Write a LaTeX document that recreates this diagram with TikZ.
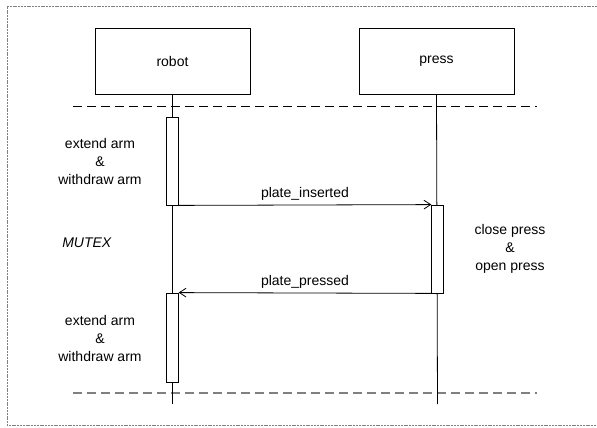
\documentclass[tikz,border=0pt]{standalone}
\usepackage{fontspec}
\setmainfont{Liberation Sans}
\usetikzlibrary{arrows.meta}
\begin{document}
\begin{tikzpicture}[x=0.75pt,y=-0.75pt,font=\fontsize{10.5}{13.5}\selectfont,line width=0.6pt,
obj/.style={shape=rectangle,draw=black,minimum width=116.25pt,minimum height=49.5pt},
act/.style={shape=rectangle,draw=black,fill=white,minimum width=8.6pt,inner sep=0pt},
msg/.style={-{Straight Barb[length=5pt,width=6.5pt]}},
sep/.style={dash pattern=on 6.75pt off 3.75pt},
note/.style={align=center}]
\def\xr{172.5};
\def\xp{437.5};
\def\ya{117};
\def\yb{205};
\def\yc{293};
\def\yd{382};

\useasboundingbox (0,0) rectangle (597,428);
\draw[gray,dash pattern=on 1.5pt off 0.6pt] (597,6) -- (7,6) -- (7,425) -- (597,425);

\draw[sep] (73,106) -- (537,106);
\draw[sep,gray,line width=1.2pt] (73,393) -- (537,393);

\node[obj] (robot) at (\xr,61) {robot};
\node[obj] (press) at (436.5,61) {press};
\coordinate (robotEnd) at (\xr,404);
\coordinate (pressEnd) at (\xp,404);
\draw (robot.south) -- (robotEnd);
\draw (press.south) -- (pressEnd);

\node[act,minimum height={(\yb-\ya)*0.75pt}] (actA) at (\xr,{(\ya+\yb)/2}) {};
\node[act,minimum height={(\yc-\yb)*0.75pt}] (actB) at (\xp,{(\yb+\yc)/2}) {};
\node[act,minimum height={(\yd-\yc)*0.75pt}] (actC) at (\xr,{(\yc+\yd)/2}) {};

\draw[msg] (actA.south east) -- node[above] (ins) {plate\_inserted} (actB.north west);
\draw[msg] (actB.south west) -- node[above] (prs) {plate\_pressed} (actC.north east);

\node[note] (armA) at (100,161) {extend arm\\\&\\withdraw arm};
\node[note] (mutex) at (87,243) {\textit{MUTEX}};
\node[note] (plate) at (510,249) {close press\\\&\\open press};
\node[note] (armB) at (100,338) {extend arm\\\&\\withdraw arm};
\end{tikzpicture}
\end{document}
